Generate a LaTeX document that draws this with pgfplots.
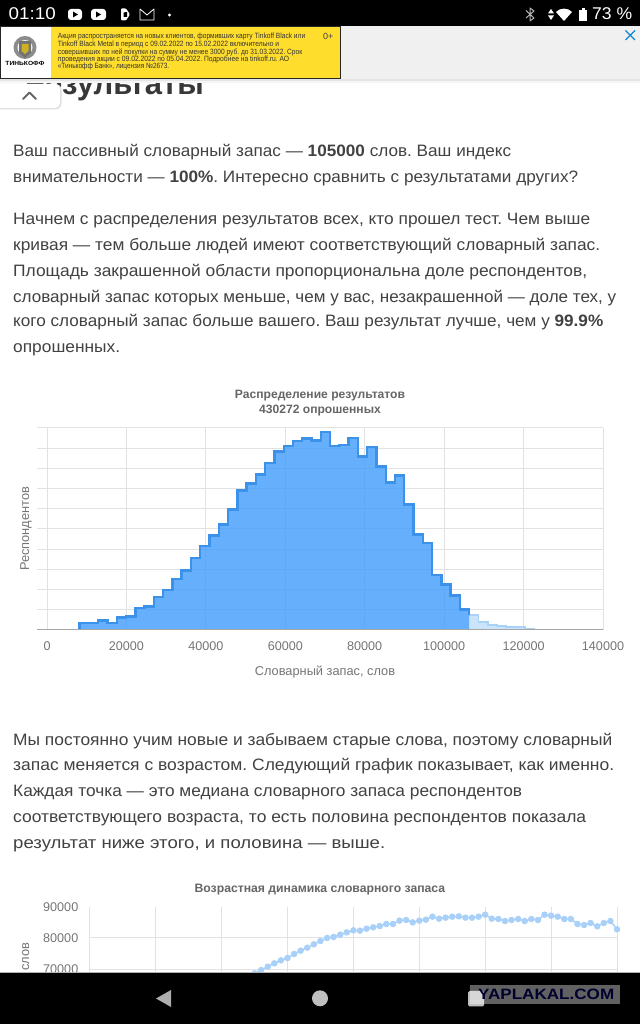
\documentclass[border=0pt]{standalone}
\usepackage{graphicx}
\usepackage{pgfplots}
\usepackage{pgfplotstable}
\usepackage{fontspec}
\setmainfont{Liberation Sans}
\frenchspacing
\pgfplotsset{compat=1.18}
\definecolor{txt}{HTML}{424242}
\definecolor{lab}{HTML}{757575}
\definecolor{ttl}{HTML}{666666}
\definecolor{gr}{HTML}{E2E2E2}
\definecolor{barfill}{HTML}{3F9CFC}
\definecolor{barline}{HTML}{3B92E8}
\definecolor{lightfill}{HTML}{CBE3FB}
\definecolor{lightline}{HTML}{A9D2F8}
\definecolor{dots}{HTML}{A8D0F8}
\definecolor{ady}{HTML}{FFDD2D}
\pgfplotstableread{
x y
8230 0
8230 347
10565 347
12900 462
15235 347
17570 611
19905 677
22240 1089
24575 1155
26910 1634
29245 1980
31580 2525
33915 2937
36250 3564
38585 4158
40920 4670
43255 5215
45590 5957
47925 6898
50260 7244
52595 7706
54930 8267
57265 8845
59600 9100
61935 9370
64270 9480
66605 9373
68940 9800
71275 9120
73610 9165
75945 9505
78280 8580
80615 9059
82950 8102
85285 7310
87620 7657
89955 6205
92290 4719
94625 4307
96960 2723
99295 2244
101630 1700
103965 1023
106300 726
}\dark
\pgfplotstableread{
x y
106300 726
108635 396
110970 264
113305 181
115640 132
117975 132
120310 66
122660 0
}\lightt
\pgfplotstableread{
age v
35 68700
36 69775
37 70840
38 71905
39 72860
40 73610
41 74890
42 75950
43 76910
44 77975
45 79040
46 80000
47 80320
48 81060
49 81810
50 82450
51 82340
52 82980
53 83410
54 83830
55 84470
56 84470
57 85540
58 85750
59 85000
60 85540
61 85860
62 86815
63 86175
64 86495
65 86815
66 86920
67 86495
68 86495
69 86815
70 87455
71 86175
72 86070
73 85430
74 85750
75 86070
76 85430
77 86070
78 85750
79 87455
80 87135
81 86815
82 86070
83 86070
84 84470
85 84150
86 84790
87 83730
88 84790
89 85430
90 82770
}\agedata
\newcommand{\Y}[1]{\the\dimexpr 1024pt-#1pt\relax}
\newcommand{\tl}[4]{\node[anchor=base west,inner sep=0,text=txt,font=\fontsize{16.5pt}{18pt}\selectfont] at (#1pt,\Y{#2}) {\resizebox{#3pt}{\height}{#4}};}
\newcommand{\adl}[4]{\node[anchor=base west,inner sep=0,text=black!80,font=\fontsize{7.6pt}{8pt}\selectfont] at (#1pt,\Y{#2}) {\resizebox{#3pt}{\height}{#4}};}
\begin{document}
\begin{tikzpicture}[x=1pt,y=1pt]
\path[use as bounding box,fill=white] (0,0) rectangle (640pt,1024pt);

\node[anchor=base east,inner sep=0,text=black!78,font=\fontsize{31pt}{33pt}\selectfont\bfseries] at (204pt,\Y{95}) {Результаты};

\tl{13}{157}{498}{Ваш пассивный словарный запас — \textbf{105000} слов. Ваш индекс}
\tl{13}{183}{565}{внимательности — \textbf{100\%}. Интересно сравнить с результатами других?}
\tl{13}{225}{577}{Начнем с распределения результатов всех, кто прошел тест. Чем выше}
\tl{13}{251}{587}{кривая — тем больше людей имеют соответствующий словарный запас.}
\tl{13}{276.5}{574}{Площадь закрашенной области пропорциональна доле респондентов,}
\tl{13}{302.5}{603}{словарный запас которых меньше, чем у вас, незакрашенной — доле тех, у}
\tl{13}{326.5}{590}{кого словарный запас больше вашего. Ваш результат лучше, чем у \textbf{99.9\%}}
\tl{13}{352.5}{107}{опрошенных.}
\tl{13}{745.5}{599}{Мы постоянно учим новые и забываем старые слова, поэтому словарный}
\tl{13}{770.5}{601}{запас меняется с возрастом. Следующий график показывает, как именно.}
\tl{13}{796.5}{509}{Каждая точка — это медиана словарного запаса респондентов}
\tl{13}{822.5}{573}{соответствующего возраста, то есть половина респондентов показала}
\tl{13}{848.5}{372}{результат ниже этого, и половина — выше.}

\begin{axis}[
  at={(37pt,394pt)},anchor=south west,
  scale only axis,width=566pt,height=202pt,
  xmin=-2519,xmax=140000,ymin=0,ymax=10000,
  xtick={0,20000,40000,60000,80000,100000,120000,140000},
  ytick={0,1000,2000,3000,4000,5000,6000,7000,8000,9000,10000},
  yticklabels={},
  scaled ticks=false,
  major tick length=0pt,
  axis line style={draw=none},
  grid=major,
  grid style={draw=gr,line width=1pt},
  /pgf/number format/fixed,
  /pgf/number format/1000 sep={},
  /pgf/number format/assume math mode=true,
  xticklabel style={text=lab,font=\fontsize{12.6pt}{14pt}\selectfont,yshift=-8pt},
  clip=false,
  title={\bfseries Распределение результатов\\\bfseries 430272 опрошенных},
  title style={at={(0.5,1)},anchor=south,yshift=2pt,align=center,text=ttl,font=\fontsize{12.1pt}{15pt}\selectfont},
  xlabel={Словарный запас, слов},
  xlabel style={at={(axis description cs:0.5088,0)},anchor=base,yshift=-46pt,text=lab,font=\fontsize{12.8pt}{14pt}\selectfont},
  ylabel={Респондентов},
  ylabel style={at={(axis description cs:0,0.5)},anchor=center,yshift=11pt,text=lab,font=\fontsize{12.8pt}{14pt}\selectfont},
]
\addplot[const plot,fill=lightfill,draw=none] table[x=x,y=y]{\lightt} \closedcycle;
\addplot[const plot,draw=lightline,line width=1.8pt] table[x=x,y=y]{\lightt};
\addplot[const plot,fill=barfill,fill opacity=0.8,draw=none] table[x=x,y=y]{\dark} \closedcycle;
\addplot[const plot,draw=barline,line width=2.4pt,line join=miter] table[x=x,y=y]{\dark};
\draw[draw=black!35,line width=1pt] (axis cs:-2519,0) -- (axis cs:140000,0);
\end{axis}

\begin{axis}[
  at={(89.8pt,\Y{1000.6})},anchor=south west,
  scale only axis,width=527.2pt,height=93.9pt,
  xmin=10,xmax=90,ymin=60000,ymax=90000,
  xtick={10,20,30,40,50,60,70,80,90},xticklabels={},
  ytick={70000,80000},
  extra y ticks={90000},
  extra y tick style={grid=none},
  scaled ticks=false,
  major tick length=0pt,
  axis line style={draw=none},
  grid=major,
  grid style={draw=gr,line width=1pt},
  /pgf/number format/fixed,
  /pgf/number format/1000 sep={},
  /pgf/number format/assume math mode=true,
  yticklabel style={text=lab,font=\fontsize{12.6pt}{14pt}\selectfont,xshift=-8pt},
  clip=false,
  title={\bfseries Возрастная динамика словарного запаса},
  title style={at={(0.4365,1)},anchor=base,yshift=8pt,text=ttl,font=\fontsize{12.2pt}{14pt}\selectfont},
  ylabel={слов},
  ylabel style={at={(axis description cs:0,0.5)},anchor=center,yshift=64pt,xshift=-3pt,text=lab,font=\fontsize{12.8pt}{14pt}\selectfont},
]
\addplot[color=dots,line width=1.4pt,mark=*,mark size=2.5pt,mark options={draw=dots,fill=dots}] table[x=age,y=v]{\agedata};
\end{axis}

\fill[white] (0,\Y{83}) rectangle (640pt,\Y{26});
\fill[black!6] (341pt,\Y{80}) rectangle (640pt,\Y{26});
\fill[black!10] (0,\Y{81.5}) rectangle (640pt,\Y{79});
\fill[black!4] (0,\Y{83}) rectangle (640pt,\Y{81.5});
\fill[ady] (51pt,\Y{78}) rectangle (340.5pt,\Y{27});
\fill[white] (0,\Y{78}) rectangle (51pt,\Y{27});
\draw[black!85,line width=0.9pt] (0,\Y{78.2}) rectangle (340.7pt,\Y{26.7});
\adl{57.7}{39}{247.3}{Акция распространяется на новых клиентов, формивших карту Tinkoff Black или}
\adl{57.7}{46.6}{221.3}{Tinkoff Black Metal в период с 09.02.2022 по 15.02.2022 включительно и}
\adl{57.7}{54.2}{244.3}{совершивших по ней покупки на сумму не менее 3000 руб. до 31.03.2022. Срок}
\adl{57.7}{61.6}{231.3}{проведения акции  с 09.02.2022 по 05.04.2022. Подробнее на tinkoff.ru. АО}
\adl{57.7}{69}{111.3}{«Тинькофф Банк», лицензия №2673.}
\node[anchor=base west,inner sep=0,text=black!75,font=\fontsize{9pt}{10pt}\selectfont] at (323pt,\Y{40}) {0+};
\fill[black!45] (25pt,\Y{47.5}) circle (11.5pt);
\fill[white] (25pt,\Y{47.5}) circle (7.5pt);
\fill[black!55] (19pt,\Y{53}) -- (19pt,\Y{41}) -- (31pt,\Y{41}) -- (31pt,\Y{53}) -- (25pt,\Y{58}) -- cycle;
\fill[ady!80!black] (21.5pt,\Y{51}) -- (21.5pt,\Y{44}) -- (28.5pt,\Y{44}) -- (28.5pt,\Y{51}) -- (25pt,\Y{54}) -- cycle;
\node[anchor=base,inner sep=0,text=black,font=\bfseries\fontsize{6pt}{7pt}\selectfont] at (25pt,\Y{65.8}) {\resizebox{39pt}{\height}{ТИНЬКОФФ}};
\draw[color=cyan!70!blue,line width=1.3pt] (625.5pt,\Y{30.5}) -- (635pt,\Y{40}) (635pt,\Y{30.5}) -- (625.5pt,\Y{40});
\fill[black!12,rounded corners=6pt] (-8pt,\Y{109.5}) rectangle (61.5pt,\Y{84});
\fill[white,rounded corners=5pt] (-8pt,\Y{108}) rectangle (60pt,\Y{84});
\draw[black!60,line width=2pt,line cap=round,line join=round] (23pt,\Y{99}) -- (29.5pt,\Y{92.5}) -- (36pt,\Y{99});

\fill[black] (0,\Y{26}) rectangle (640pt,1024pt);
\node[anchor=base west,inner sep=0,text=white,font=\fontsize{17pt}{18pt}\selectfont] at (8.5pt,\Y{20}) {\resizebox{47pt}{\height}{01:10}};
\fill[white,rounded corners=3pt] (68pt,\Y{20}) rectangle (82pt,\Y{9});
\fill[black] (73pt,\Y{17.5}) -- (73pt,\Y{11.5}) -- (78pt,\Y{14.5}) -- cycle;
\fill[white,rounded corners=3pt] (91pt,\Y{20}) rectangle (106pt,\Y{9});
\fill[black] (96pt,\Y{17.5}) -- (96pt,\Y{11.5}) -- (101pt,\Y{14.5}) -- cycle;
\fill[white,rounded corners=1pt] (121pt,\Y{20.5}) -- (121pt,\Y{8.5}) -- (126pt,\Y{8.5}) -- (130pt,\Y{14.5}) -- (126pt,\Y{20.5}) -- cycle;
\fill[black] (123.5pt,\Y{17}) -- (123.5pt,\Y{12.5}) -- (127pt,\Y{12}) -- (127pt,\Y{17}) -- cycle;
\draw[white,line width=0.8pt,line join=round] (140pt,\Y{20}) -- (140pt,\Y{9}) -- (147pt,\Y{15}) -- (154pt,\Y{9}) -- (154pt,\Y{20}) -- cycle;
\fill[white] (169.5pt,\Y{15}) circle (1.6pt);
\draw[white!70!black,line width=1pt,line join=round] (526pt,\Y{10.5}) -- (534pt,\Y{18}) -- (530pt,\Y{21}) -- (530pt,\Y{8}) -- (534pt,\Y{11}) -- (526pt,\Y{18});
\fill[white] (548pt,\Y{13.5}) -- (551pt,\Y{9}) -- (554pt,\Y{13.5}) -- cycle;
\fill[white] (548pt,\Y{15.5}) -- (551pt,\Y{20}) -- (554pt,\Y{15.5}) -- cycle;
\fill[white] (556pt,\Y{12}) .. controls (560pt,\Y{7.5}) and (568pt,\Y{7.5}) .. (572pt,\Y{12}) -- (564pt,\Y{21}) -- cycle;
\fill[white] (579pt,\Y{21}) rectangle (587pt,\Y{10});
\fill[white] (581.5pt,\Y{10}) rectangle (584.5pt,\Y{8.5});
\node[anchor=base west,inner sep=0,text=white,font=\fontsize{17pt}{18pt}\selectfont] at (592pt,\Y{20}) {\resizebox{40pt}{\height}{73 \%}};

\fill[black] (0,0) rectangle (640pt,\Y{973});
\fill[black!30] (0,\Y{973}) rectangle (640pt,\Y{972.3});
\fill[white!68!black] (156pt,\Y{998.5}) -- (171pt,\Y{990}) -- (171pt,\Y{1007}) -- cycle;
\fill[white!75!black] (320pt,\Y{998.3}) circle (8pt);
\fill[white!75!black,rounded corners=1.5pt] (468pt,\Y{1006.5}) rectangle (484pt,\Y{991});
\fill[white,fill opacity=0.38] (470pt,\Y{1004}) rectangle (620pt,\Y{985});
\node[anchor=base west,inner sep=0,text=black!70!blue!60!black,font=\bfseries\fontsize{15pt}{16pt}\selectfont] at (478pt,\Y{1000}) {\resizebox{136pt}{\height}{YAPLAKAL.COM}};
\end{tikzpicture}
\end{document}
